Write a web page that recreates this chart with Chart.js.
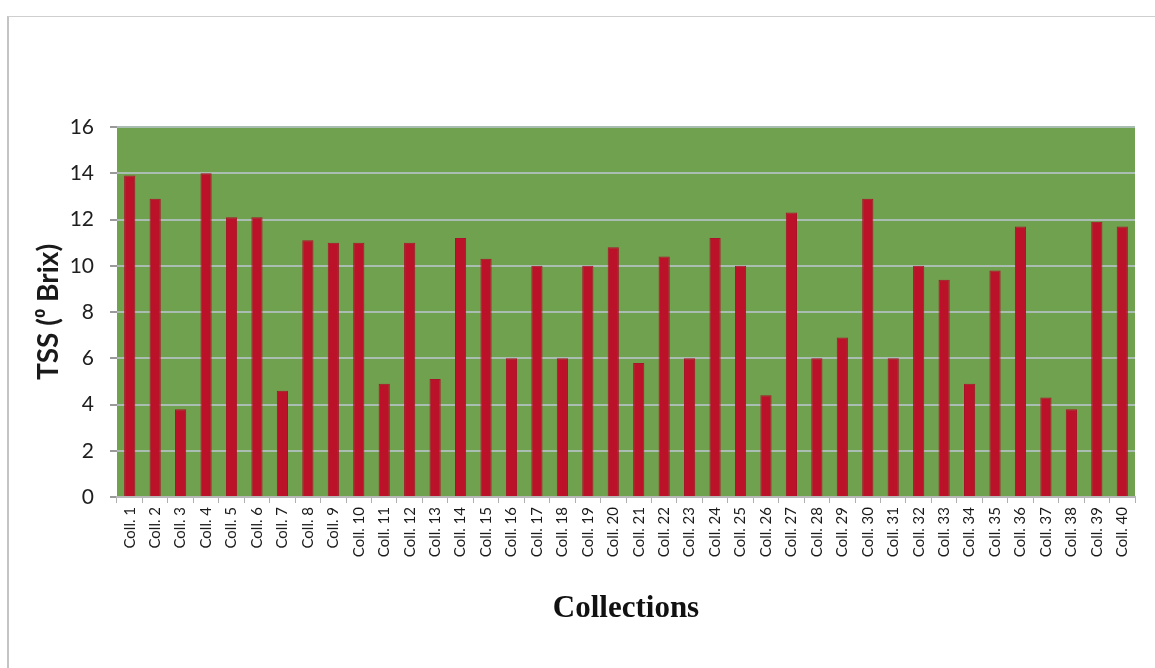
<!DOCTYPE html>
<html>
<head>
<meta charset="utf-8">
<title>TSS by collection</title>
<script src="https://cdn.jsdelivr.net/npm/chart.js@4/dist/chart.umd.min.js"></script>
<style>
  html, body { margin: 0; padding: 0; background: #ffffff; }
  #wrap { position: relative; width: 1155px; height: 668px; overflow: hidden; }
  /* thin page frame around the figure */
  #frame {
    position: absolute; left: 7px; top: 16px; width: 1160px; height: 700px;
    border-left: 2px solid #c4c4c4; border-top: 1px solid #cfcfcf;
    pointer-events: none;
  }
  canvas { position: absolute; left: 0; top: 0; }
</style>
</head>
<body>
<div id="wrap">
  <div id="frame"></div>
  <canvas id="tssChart" width="1155" height="668"></canvas>
</div>
<script>
// data: total soluble solids per collection
const collections = Array.from({ length: 40 }, (_, i) => `Coll. ${i + 1}`);
const tssValues = [
  13.9, 12.9, 3.8, 14.0, 12.1, 12.1, 4.6, 11.1, 11.0, 11.0,
  4.9, 11.0, 5.1, 11.2, 10.3, 6.0, 10.0, 6.0, 10.0, 10.8,
  5.8, 10.4, 6.0, 11.2, 10.0, 4.4, 12.3, 6.0, 6.9, 12.9,
  6.0, 10.0, 9.4, 4.9, 9.8, 11.7, 4.3, 3.8, 11.9, 11.7
];
const yTicks = [0, 2, 4, 6, 8, 10, 12, 14, 16];

// fill only the plot area green
const plotBackground = {
  id: 'plotBackground',
  beforeDraw(chart) {
    const { ctx, chartArea: a } = chart;
    ctx.save();
    ctx.fillStyle = '#6fa14f';
    ctx.fillRect(a.left, a.top, a.right - a.left, a.bottom - a.top);
    ctx.restore();
  }
};

const ctx = document.getElementById('tssChart').getContext('2d');
new Chart(ctx, {
  type: 'bar',
  data: {
    labels: collections,
    datasets: [{
      label: 'TSS',
      data: tssValues,
      backgroundColor: '#bb1229',
      borderColor: '#a8142a',
      borderWidth: 1,
      barPercentage: 0.44,
      categoryPercentage: 1.0
    }]
  },
  options: {
    responsive: false,
    animation: false,
    layout: { padding: { left: 20, top: 127, right: 20, bottom: 34 } },
    plugins: { legend: { display: false }, tooltip: { enabled: false } },
    scales: {
      y: {
        min: 0,
        max: 16,
        afterBuildTicks: (s) => { s.ticks = yTicks.map(v => ({ value: v })); },
        afterFit: (s) => { s.width = 97; },
        grid: {
          color: '#a9bdb3',
          lineWidth: 2,
          tickLength: 7,
          tickColor: '#9a9a9a'
        },
        border: { display: false },
        ticks: {
          padding: 16,
          color: '#1e1e1e',
          font: { family: 'Lato', size: 21 }
        },
        title: {
          display: true,
          text: 'TSS (\u2070 Brix)',
          color: '#1a1a1a',
          padding: { top: 12, bottom: 0 },
          font: { family: 'Lato', size: 28, weight: 'bold' }
        }
      },
      x: {
        afterFit: (s) => { s.height = 137; },
        grid: {
          offset: true,
          drawOnChartArea: false,
          tickLength: 6,
          tickColor: '#b0b0b0'
        },
        border: { display: true, color: '#b8b8b8', width: 2 },
        ticks: {
          minRotation: 90,
          maxRotation: 90,
          autoSkip: false,
          padding: 4,
          color: '#1a1a1a',
          font: { family: 'Lato', size: 15 }
        },
        title: {
          display: true,
          text: 'Collections',
          color: '#111111',
          padding: { top: 0, bottom: 6 },
          font: { family: 'Liberation Serif', size: 31, weight: 'bold' }
        }
      }
    }
  },
  plugins: [plotBackground]
});
</script>
</body>
</html>
